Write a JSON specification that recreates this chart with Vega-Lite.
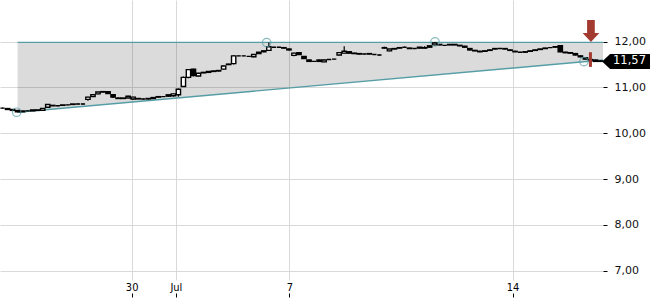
{
  "$schema": "https://vega.github.io/schema/vega-lite/v6.json",
  "width": 603,
  "height": 280,
  "autosize": {"type": "none"},
  "padding": {"left": 0, "top": 0, "right": 47, "bottom": 20},
  "background": "white",
  "config": {"view": {"stroke": null}},
  "datasets": {
    "tri": [
      {"t": 3.5, "p": 11.985, "p2": 10.46},
      {"t": 120, "p": 11.985, "p2": 11.6}
    ],
    "lines": [
      {"t": 3.5, "t2": 120, "p": 11.985, "p2": 11.985},
      {"t": 3.5, "t2": 120, "p": 10.46, "p2": 11.6}
    ],
    "touch": [
      {"t": 3.32, "p": 10.46},
      {"t": 53.07, "p": 11.98},
      {"t": 86.57, "p": 11.995},
      {"t": 116.2, "p": 11.565}
    ],
    "signal": [{"t": 117.5, "p": 11.77, "p2": 11.45}],
    "arrow": [{"t": 117.6, "p": 12.234}],
    "last": [{"t": 124.6, "p": 11.57, "tt": 122.0, "label": "11,57"}],
    "candles": [
      {"t": 0.5, "o": 10.55, "h": 10.56, "l": 10.54, "c": 10.55},
      {"t": 1.5, "o": 10.54, "h": 10.55, "l": 10.52, "c": 10.52},
      {"t": 2.5, "o": 10.52, "h": 10.52, "l": 10.49, "c": 10.5},
      {"t": 3.5, "o": 10.5, "h": 10.5, "l": 10.46, "c": 10.47},
      {"t": 4.5, "o": 10.47, "h": 10.49, "l": 10.47, "c": 10.49},
      {"t": 5.5, "o": 10.49, "h": 10.5, "l": 10.48, "c": 10.49},
      {"t": 6.5, "o": 10.49, "h": 10.51, "l": 10.49, "c": 10.51},
      {"t": 7.5, "o": 10.51, "h": 10.51, "l": 10.49, "c": 10.5},
      {"t": 8.5, "o": 10.5, "h": 10.54, "l": 10.5, "c": 10.54},
      {"t": 9.5, "o": 10.57, "h": 10.64, "l": 10.56, "c": 10.63},
      {"t": 10.5, "o": 10.61, "h": 10.62, "l": 10.6, "c": 10.6},
      {"t": 11.5, "o": 10.6, "h": 10.61, "l": 10.59, "c": 10.6},
      {"t": 12.5, "o": 10.61, "h": 10.62, "l": 10.6, "c": 10.62},
      {"t": 13.5, "o": 10.62, "h": 10.63, "l": 10.61, "c": 10.62},
      {"t": 14.5, "o": 10.63, "h": 10.64, "l": 10.62, "c": 10.64},
      {"t": 15.5, "o": 10.64, "h": 10.65, "l": 10.63, "c": 10.64},
      {"t": 16.5, "o": 10.64, "h": 10.65, "l": 10.63, "c": 10.64},
      {"t": 17.5, "o": 10.74, "h": 10.8, "l": 10.71, "c": 10.79},
      {"t": 18.5, "o": 10.8, "h": 10.85, "l": 10.79, "c": 10.84},
      {"t": 19.5, "o": 10.86, "h": 10.9, "l": 10.85, "c": 10.9},
      {"t": 20.5, "o": 10.9, "h": 10.92, "l": 10.89, "c": 10.91},
      {"t": 21.5, "o": 10.91, "h": 10.92, "l": 10.86, "c": 10.87},
      {"t": 22.5, "o": 10.84, "h": 10.85, "l": 10.77, "c": 10.79},
      {"t": 23.5, "o": 10.77, "h": 10.78, "l": 10.75, "c": 10.76},
      {"t": 24.5, "o": 10.76, "h": 10.77, "l": 10.75, "c": 10.77},
      {"t": 25.5, "o": 10.77, "h": 10.82, "l": 10.77, "c": 10.81},
      {"t": 26.5, "o": 10.75, "h": 10.8, "l": 10.73, "c": 10.79},
      {"t": 27.5, "o": 10.76, "h": 10.77, "l": 10.75, "c": 10.75},
      {"t": 28.5, "o": 10.75, "h": 10.76, "l": 10.74, "c": 10.75},
      {"t": 29.5, "o": 10.75, "h": 10.76, "l": 10.74, "c": 10.76},
      {"t": 30.5, "o": 10.76, "h": 10.79, "l": 10.75, "c": 10.78},
      {"t": 31.5, "o": 10.79, "h": 10.8, "l": 10.78, "c": 10.8},
      {"t": 32.5, "o": 10.8, "h": 10.81, "l": 10.79, "c": 10.8},
      {"t": 33.5, "o": 10.81, "h": 10.85, "l": 10.8, "c": 10.84},
      {"t": 34.5, "o": 10.82, "h": 10.87, "l": 10.8, "c": 10.86},
      {"t": 35.5, "o": 10.84, "h": 10.98, "l": 10.8, "c": 10.96},
      {"t": 36.5, "o": 11.02, "h": 11.24, "l": 11.01, "c": 11.22},
      {"t": 37.5, "o": 11.22, "h": 11.4, "l": 11.2, "c": 11.39},
      {"t": 38.5, "o": 11.4, "h": 11.41, "l": 11.24, "c": 11.26},
      {"t": 39.5, "o": 11.25, "h": 11.32, "l": 11.24, "c": 11.31},
      {"t": 40.5, "o": 11.32, "h": 11.34, "l": 11.31, "c": 11.33},
      {"t": 41.5, "o": 11.33, "h": 11.35, "l": 11.32, "c": 11.35},
      {"t": 42.5, "o": 11.35, "h": 11.37, "l": 11.34, "c": 11.36},
      {"t": 43.5, "o": 11.36, "h": 11.38, "l": 11.35, "c": 11.37},
      {"t": 44.5, "o": 11.4, "h": 11.48, "l": 11.39, "c": 11.47},
      {"t": 45.5, "o": 11.5, "h": 11.52, "l": 11.49, "c": 11.51},
      {"t": 46.5, "o": 11.52, "h": 11.71, "l": 11.5, "c": 11.69},
      {"t": 47.5, "o": 11.69, "h": 11.7, "l": 11.68, "c": 11.69},
      {"t": 48.5, "o": 11.69, "h": 11.7, "l": 11.68, "c": 11.69},
      {"t": 49.5, "o": 11.68, "h": 11.69, "l": 11.67, "c": 11.68},
      {"t": 50.5, "o": 11.67, "h": 11.72, "l": 11.66, "c": 11.72},
      {"t": 51.5, "o": 11.74, "h": 11.77, "l": 11.73, "c": 11.77},
      {"t": 52.5, "o": 11.78, "h": 11.8, "l": 11.77, "c": 11.8},
      {"t": 53.5, "o": 11.81, "h": 11.98, "l": 11.8, "c": 11.89},
      {"t": 54.5, "o": 11.88, "h": 11.89, "l": 11.87, "c": 11.88},
      {"t": 55.5, "o": 11.88, "h": 11.89, "l": 11.87, "c": 11.88},
      {"t": 56.5, "o": 11.87, "h": 11.88, "l": 11.85, "c": 11.86},
      {"t": 57.5, "o": 11.84, "h": 11.85, "l": 11.81, "c": 11.82},
      {"t": 58.5, "o": 11.7, "h": 11.76, "l": 11.68, "c": 11.75},
      {"t": 59.5, "o": 11.76, "h": 11.77, "l": 11.71, "c": 11.72},
      {"t": 60.5, "o": 11.68, "h": 11.69, "l": 11.62, "c": 11.63},
      {"t": 61.5, "o": 11.6, "h": 11.61, "l": 11.56, "c": 11.57},
      {"t": 62.5, "o": 11.57, "h": 11.58, "l": 11.56, "c": 11.57},
      {"t": 63.5, "o": 11.57, "h": 11.61, "l": 11.56, "c": 11.6},
      {"t": 64.5, "o": 11.56, "h": 11.61, "l": 11.55, "c": 11.6},
      {"t": 65.5, "o": 11.61, "h": 11.62, "l": 11.6, "c": 11.61},
      {"t": 66.5, "o": 11.62, "h": 11.63, "l": 11.61, "c": 11.62},
      {"t": 67.5, "o": 11.71, "h": 11.77, "l": 11.7, "c": 11.76},
      {"t": 68.5, "o": 11.75, "h": 11.9, "l": 11.74, "c": 11.79},
      {"t": 69.5, "o": 11.78, "h": 11.79, "l": 11.74, "c": 11.75},
      {"t": 70.5, "o": 11.75, "h": 11.76, "l": 11.73, "c": 11.74},
      {"t": 71.5, "o": 11.74, "h": 11.75, "l": 11.72, "c": 11.73},
      {"t": 72.5, "o": 11.73, "h": 11.74, "l": 11.72, "c": 11.73},
      {"t": 73.5, "o": 11.74, "h": 11.75, "l": 11.72, "c": 11.73},
      {"t": 74.5, "o": 11.72, "h": 11.73, "l": 11.71, "c": 11.72},
      {"t": 75.5, "o": 11.71, "h": 11.72, "l": 11.7, "c": 11.71},
      {"t": 76.5, "o": 11.87, "h": 11.89, "l": 11.85, "c": 11.86},
      {"t": 77.5, "o": 11.8, "h": 11.84, "l": 11.79, "c": 11.84},
      {"t": 78.5, "o": 11.84, "h": 11.86, "l": 11.83, "c": 11.85},
      {"t": 79.5, "o": 11.86, "h": 11.88, "l": 11.85, "c": 11.87},
      {"t": 80.5, "o": 11.88, "h": 11.89, "l": 11.87, "c": 11.88},
      {"t": 81.5, "o": 11.86, "h": 11.87, "l": 11.84, "c": 11.85},
      {"t": 82.5, "o": 11.85, "h": 11.86, "l": 11.84, "c": 11.85},
      {"t": 83.5, "o": 11.86, "h": 11.88, "l": 11.85, "c": 11.88},
      {"t": 84.5, "o": 11.87, "h": 11.9, "l": 11.85, "c": 11.86},
      {"t": 85.5, "o": 11.88, "h": 11.91, "l": 11.87, "c": 11.91},
      {"t": 86.5, "o": 11.93, "h": 11.99, "l": 11.92, "c": 11.97},
      {"t": 87.5, "o": 11.94, "h": 11.95, "l": 11.92, "c": 11.93},
      {"t": 88.5, "o": 11.92, "h": 11.93, "l": 11.91, "c": 11.92},
      {"t": 89.5, "o": 11.93, "h": 11.95, "l": 11.92, "c": 11.94},
      {"t": 90.5, "o": 11.94, "h": 11.95, "l": 11.92, "c": 11.93},
      {"t": 91.5, "o": 11.92, "h": 11.93, "l": 11.9, "c": 11.91},
      {"t": 92.5, "o": 11.9, "h": 11.91, "l": 11.87, "c": 11.88},
      {"t": 93.5, "o": 11.85, "h": 11.86, "l": 11.81, "c": 11.82},
      {"t": 94.5, "o": 11.81, "h": 11.82, "l": 11.79, "c": 11.8},
      {"t": 95.5, "o": 11.79, "h": 11.8, "l": 11.77, "c": 11.78},
      {"t": 96.5, "o": 11.79, "h": 11.81, "l": 11.78, "c": 11.8},
      {"t": 97.5, "o": 11.81, "h": 11.83, "l": 11.8, "c": 11.82},
      {"t": 98.5, "o": 11.84, "h": 11.86, "l": 11.83, "c": 11.85},
      {"t": 99.5, "o": 11.85, "h": 11.86, "l": 11.84, "c": 11.85},
      {"t": 100.5, "o": 11.85, "h": 11.86, "l": 11.83, "c": 11.84},
      {"t": 101.5, "o": 11.82, "h": 11.83, "l": 11.8, "c": 11.81},
      {"t": 102.5, "o": 11.79, "h": 11.8, "l": 11.77, "c": 11.78},
      {"t": 103.5, "o": 11.77, "h": 11.78, "l": 11.76, "c": 11.77},
      {"t": 104.5, "o": 11.77, "h": 11.79, "l": 11.76, "c": 11.78},
      {"t": 105.5, "o": 11.79, "h": 11.81, "l": 11.78, "c": 11.8},
      {"t": 106.5, "o": 11.81, "h": 11.83, "l": 11.8, "c": 11.82},
      {"t": 107.5, "o": 11.83, "h": 11.85, "l": 11.82, "c": 11.84},
      {"t": 108.5, "o": 11.85, "h": 11.87, "l": 11.84, "c": 11.86},
      {"t": 109.5, "o": 11.87, "h": 11.88, "l": 11.86, "c": 11.87},
      {"t": 110.5, "o": 11.88, "h": 11.9, "l": 11.87, "c": 11.89},
      {"t": 111.5, "o": 11.91, "h": 11.92, "l": 11.77, "c": 11.78},
      {"t": 112.5, "o": 11.77, "h": 11.78, "l": 11.75, "c": 11.76},
      {"t": 113.5, "o": 11.76, "h": 11.77, "l": 11.74, "c": 11.75},
      {"t": 114.5, "o": 11.74, "h": 11.75, "l": 11.7, "c": 11.71},
      {"t": 115.5, "o": 11.69, "h": 11.7, "l": 11.66, "c": 11.67},
      {"t": 116.5, "o": 11.65, "h": 11.66, "l": 11.61, "c": 11.62},
      {"t": 117.5, "o": 11.61, "h": 11.62, "l": 11.59, "c": 11.6},
      {"t": 118.5, "o": 11.57, "h": 11.61, "l": 11.56, "c": 11.6},
      {"t": 119.5, "o": 11.58, "h": 11.59, "l": 11.56, "c": 11.57}
    ]
  },
  "layer": [
    {
      "data": {"name": "tri"},
      "mark": {"type": "area", "fill": "#000000", "opacity": 0.14},
      "encoding": {
        "x": {
          "field": "t", "type": "quantitative",
          "scale": {"domain": [0, 120], "nice": false, "zero": false, "padding": 0},
          "axis": {
            "title": null,
            "values": [26.2, 35.0, 57.6, 102.0],
            "labelExpr": "datum.value < 30 ? '30' : datum.value < 40 ? 'Jul' : datum.value < 80 ? '7' : '14'",
            "grid": true, "gridColor": "#d9d9d9", "gridWidth": 1,
            "domain": false,
            "offset": 13, "ticks": true, "tickSize": 4, "tickColor": "#000000", "tickWidth": 1,
            "labelPadding": -16, "labelBaseline": "top",
            "labelFont": "DejaVu Sans Condensed", "labelFontSize": 11, "labelColor": "#000000"
          }
        },
        "y": {
          "field": "p", "type": "quantitative",
          "scale": {"domain": [6.797, 12.91], "nice": false, "zero": false},
          "axis": {
            "title": null, "orient": "right",
            "values": [7, 8, 9, 10, 11, 12],
            "labelExpr": "replace(format(datum.value, '.2f'), '.', ',')",
            "grid": true, "gridColor": "#d9d9d9", "gridWidth": 1,
            "domain": false, "tickSize": 4, "tickColor": "#000000", "tickWidth": 1,
            "labelPadding": 7, "labelFont": "DejaVu Sans", "labelFontSize": 11, "labelColor": "#111111"
          }
        },
        "y2": {"field": "p2"}
      }
    },
    {
      "data": {"name": "lines"},
      "mark": {"type": "rule", "color": "#559ea6", "strokeWidth": 1.4},
      "encoding": {
        "x": {"field": "t", "type": "quantitative", "axis": {"title": null}},
        "x2": {"field": "t2"},
        "y": {"field": "p", "type": "quantitative", "axis": {"title": null, "orient": "right"}},
        "y2": {"field": "p2"}
      }
    },
    {
      "data": {"name": "candles"},
      "mark": {"type": "rule", "color": "#000000", "strokeWidth": 1.2},
      "encoding": {
        "x": {"field": "t", "type": "quantitative", "axis": {"title": null}},
        "y": {"field": "l", "type": "quantitative", "axis": {"title": null, "orient": "right"}},
        "y2": {"field": "h"}
      }
    },
    {
      "data": {"name": "candles"},
      "mark": {"type": "bar", "size": 4.3, "stroke": "#000000", "strokeWidth": 1.4},
      "encoding": {
        "x": {"field": "t", "type": "quantitative", "axis": {"title": null}},
        "y": {"field": "o", "type": "quantitative", "axis": {"title": null, "orient": "right"}},
        "y2": {"field": "c"},
        "fill": {"condition": {"test": "datum.c >= datum.o", "value": "#ffffff"}, "value": "#000000"}
      }
    },
    {
      "data": {"name": "touch"},
      "mark": {"type": "point", "filled": false, "color": "#559ea6", "size": 72, "strokeWidth": 1.2},
      "encoding": {
        "x": {"field": "t", "type": "quantitative", "axis": {"title": null}},
        "y": {"field": "p", "type": "quantitative", "axis": {"title": null, "orient": "right"}}
      }
    },
    {
      "data": {"name": "signal"},
      "mark": {"type": "rule", "color": "#a33a30", "strokeWidth": 3},
      "encoding": {
        "x": {"field": "t", "type": "quantitative", "axis": {"title": null}},
        "y": {"field": "p", "type": "quantitative", "axis": {"title": null, "orient": "right"}},
        "y2": {"field": "p2"}
      }
    },
    {
      "data": {"name": "arrow"},
      "mark": {"type": "point", "filled": true, "opacity": 1, "color": "#a33a30", "size": 484,
               "shape": "M-0.35,-1L0.35,-1L0.35,0.18L0.76,0.18L0,1L-0.76,0.18L-0.35,0.18Z"},
      "encoding": {
        "x": {"field": "t", "type": "quantitative", "axis": {"title": null}},
        "y": {"field": "p", "type": "quantitative", "axis": {"title": null, "orient": "right"}}
      }
    },
    {
      "data": {"name": "last"},
      "mark": {"type": "point", "filled": true, "opacity": 1, "color": "#000000", "size": 2304,
               "shape": "M-1,0L-0.667,-0.3125L1,-0.3125L1,0.3125L-0.667,0.3125Z"},
      "encoding": {
        "x": {"field": "t", "type": "quantitative", "axis": {"title": null}},
        "y": {"field": "p", "type": "quantitative", "axis": {"title": null, "orient": "right"}}
      }
    },
    {
      "data": {"name": "last"},
      "mark": {"type": "text", "color": "#ffffff", "align": "left", "baseline": "middle", "font": "DejaVu Sans", "fontSize": 11.5},
      "encoding": {
        "x": {"field": "tt", "type": "quantitative", "axis": {"title": null}},
        "y": {"field": "p", "type": "quantitative", "axis": {"title": null, "orient": "right"}},
        "text": {"field": "label"}
      }
    }
  ]
}
